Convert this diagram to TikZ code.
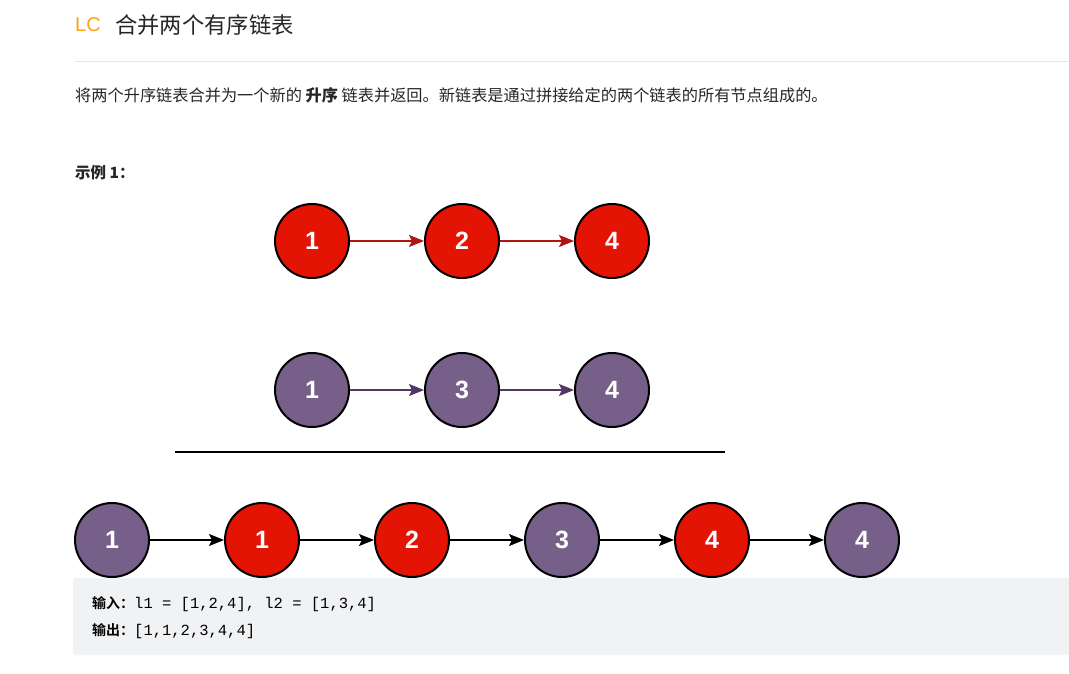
\documentclass[tikz,border=0pt]{standalone}
\usepackage{fontspec}
\setmainfont{Liberation Sans}
\setmonofont{Liberation Mono}
\newfontfamily\cjk{Noto Sans CJK SC}
\newfontfamily\cjkb[BoldFont={Noto Sans CJK SC Bold}]{Noto Sans CJK SC}
\usetikzlibrary{arrows.meta}
\definecolor{nred}{RGB}{228,20,4}
\definecolor{npur}{RGB}{118,96,138}
\definecolor{ared}{RGB}{178,20,20}
\definecolor{apur}{RGB}{80,55,100}
\definecolor{lcorange}{RGB}{255,161,22}
\definecolor{titlec}{RGB}{38,38,38}
\definecolor{codebg}{RGB}{241,242,244}
\definecolor{sepc}{RGB}{230,230,230}
\tikzset{
  ball/.style={circle, draw=black, line width=2pt, minimum size=74pt, inner sep=0pt,
    text=white, font=\fontsize{25}{25}\selectfont\bfseries},
  redball/.style={ball, fill=nred},
  purball/.style={ball, fill=npur},
  link/.style={line width=1.5pt, -{Stealth[length=15pt,width=12pt,inset=3pt]}},
  txt/.style={anchor=west, inner sep=0pt},
}
\begin{document}
\begin{tikzpicture}[x=1pt,y=-1pt]
\useasboundingbox (0,0) rectangle (1069,673);
% header
\node[txt, text=lcorange, font=\fontsize{20}{20}\selectfont] (lc) at (75,25) {LC};
\node[txt, text=titlec, font=\cjk\fontsize{22.3}{22}\selectfont] (title) at (115,25) {合并两个有序链表};
\draw[sepc, line width=1pt] (75,61) -- (1069,61);
\node[txt, text=titlec, font=\cjk\fontsize{16.2}{16}\selectfont] (para) at (75,95)
  {将两个升序链表合并为一个新的 \textbf{升序} 链表并返回。新链表是通过拼接给定的两个链表的所有节点组成的。};
\node[txt, text=titlec, font=\cjk\fontsize{15.5}{15}\selectfont\bfseries] (ex) at (75,173) {示例 1：};
% row 1
\node[redball] (a1) at (312,241) {1};
\node[redball] (a2) at (462,241) {2};
\node[redball] (a3) at (612,241) {4};
\draw[link, ared] (a1) -- (a2);
\draw[link, ared] (a2) -- (a3);
% row 2
\node[purball] (b1) at (312,390) {1};
\node[purball] (b2) at (462,390) {3};
\node[purball] (b3) at (612,390) {4};
\draw[link, apur] (b1) -- (b2);
\draw[link, apur] (b2) -- (b3);
% separator
\coordinate (s1) at (175,452);
\coordinate (s2) at (725,452);
\draw[line width=2.5pt] (s1) -- (s2);
% code box
\fill[codebg, rounded corners=3pt] (73,578) rectangle (1080,655);
% row 3
\node[purball] (c1) at (112,540) {1};
\node[redball] (c2) at (262,540) {1};
\node[redball] (c3) at (412,540) {2};
\node[purball] (c4) at (562,540) {3};
\node[redball] (c5) at (712,540) {4};
\node[purball] (c6) at (862,540) {4};
\draw[link] (c1) -- (c2);
\draw[link] (c2) -- (c3);
\draw[link] (c3) -- (c4);
\draw[link] (c4) -- (c5);
\draw[link] (c5) -- (c6);
% code text
\node[txt, text=black] (in) at (92,604) {{\cjkb\fontsize{14}{14}\selectfont\bfseries 输入：}{\ttfamily\fontsize{15.5}{15.5}\selectfont l1 = [1,2,4], l2 = [1,3,4]}};
\node[txt, text=black] (out) at (92,631) {{\cjkb\fontsize{14}{14}\selectfont\bfseries 输出：}{\ttfamily\fontsize{15.5}{15.5}\selectfont [1,1,2,3,4,4]}};
\end{tikzpicture}
\end{document}
